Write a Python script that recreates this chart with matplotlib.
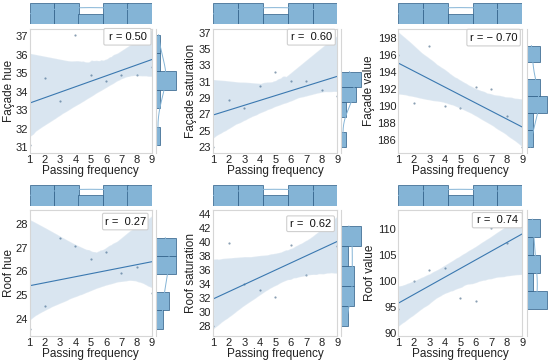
import numpy as np
import matplotlib
matplotlib.use("Agg")
import matplotlib.pyplot as plt
from matplotlib.patches import FancyBboxPatch
from matplotlib.collections import PolyCollection
import seaborn as sns

sns.set_style("white")
plt.rcParams['font.family'] = ['Liberation Sans', 'DejaVu Sans']

# ---------------- data ----------------
passing_frequency = [1, 2, 3, 4, 5, 6, 7, 8, 9]
facade_hue = [31.1, 34.75, 33.5, 37.1, 34.9, 34.6, 34.9, 34.9, 35.35]
facade_saturation = [23.0, 28.8, 27.8, 30.45, 32.25, 31.1, 31.1, 29.96, 29.2]
facade_value = [196.0, 190.33, 197.06, 190.0, 189.74, 192.2, 191.9, 188.76, 185.1]
roof_hue = [23.6, 24.55, 27.42, 27.06, 26.52, 26.8, 25.93, 26.17, 25.09]
roof_saturation = [28.1, 39.87, 34.04, 33.22, 32.2, 39.63, 35.32, 42.33, 39.4]
roof_value = [94.65, 100.06, 102.17, 102.44, 96.73, 96.1, 110.13, 107.25, 111.9]

x_label = "Passing frequency"
y_labels = ["Façade hue", "Façade saturation", "Façade value",
            "Roof hue", "Roof saturation", "Roof value"]
r_labels = ["r = 0.50", "r =  0.60", "r = \u2212 0.70",
            "r =  0.27", "r =  0.62", "r =  0.74"]
x_ticks = [1, 2, 3, 4, 5, 6, 7, 8, 9]
y_ticks = [[31, 32, 33, 34, 35, 36, 37],
           [23, 25, 27, 29, 31, 33, 35, 37],
           [186, 188, 190, 192, 194, 196, 198],
           [24, 25, 26, 27, 28],
           [28, 30, 32, 34, 36, 38, 40, 42, 44],
           [90, 95, 100, 105, 110]]
series = [facade_hue, facade_saturation, facade_value,
          roof_hue, roof_saturation, roof_value]

# ---------------- layout / style ----------------
W, H = 550, 361
fig = plt.figure(figsize=(5.5, 3.61), dpi=100)


def box(l, t, r, b):
    return [l / W, 1 - b / H, (r - l) / W, (b - t) / H]


cols = [(29.5, 152, 156, 177), (213.3, 337.3, 341, 362), (398.3, 522.3, 526.5, 547.5)]
rows = [(28.5, 153, 2.3, 24), (210, 335.5, 184, 205.5)]

ylims = [(30.68, 37.43), (22.26, 37.53), (184.42, 199.06),
         (23.31, 28.58), (26.68, 44.6), (89.48, 113.65)]
ytick_pads = [1.5, 2, 2, 1.5, 2, 2]
ylabel_pads = [0.3, 1.5, 1.5, 0.3, 1.5, 1.5]
xlabel_top = [165.5, 165.5, 165.5, 348.5, 348.5, 348.5]
rboxes = [(0.607, 0.992, 0.867, 1.0), (0.597, 0.984, 0.867, 0.994),
          (0.553, 0.984, 0.86, 0.994), (0.596, 0.968, 0.842, 0.974),
          (0.592, 0.977, 0.828, 0.953), (0.597, 1.0, 0.858, 0.98)]

C0 = "#1f77b4"
spine_c = "#d6d6d6"
bar_c = (132 / 255, 180 / 255, 214 / 255)
edge_c = (0.17, 0.36, 0.52)

for i, vals in enumerate(series):
    r_i, c_i = divmod(i, 3)
    ml, mr, yl, yr = cols[c_i]
    mt, mb, tt, tb = rows[r_i]
    ax = fig.add_axes(box(ml, mt, mr, mb))
    axx = fig.add_axes(box(ml, tt, mr, tb), sharex=ax)
    axy = fig.add_axes(box(yl, mt, yr, mb), sharey=ax)

    sns.regplot(x=passing_frequency, y=vals, ax=ax, ci=95, seed=3,
                color=C0,
                scatter_kws=dict(s=2.5, color="#6d87a0", linewidths=0),
                line_kws=dict(lw=0.8, color="#3a78b0"))
    for coll in ax.collections:
        if isinstance(coll, PolyCollection):
            coll.set_alpha(0.19)

    sns.histplot(x=passing_frequency, ax=axx, kde=True, color=bar_c, alpha=1,
                 edgecolor=edge_c, linewidth=0.5,
                 line_kws=dict(lw=0.7, color="#4f7fa8"))
    sns.histplot(y=vals, ax=axy, kde=True, color=bar_c, alpha=1,
                 edgecolor=edge_c, linewidth=0.5,
                 line_kws=dict(lw=0.7, color="#8fa7bd"))

    ax.set_xlim(1, 9)
    ax.set_ylim(*ylims[i])
    ax.set_xticks(x_ticks)
    ax.set_yticks(y_ticks[i])
    ax.tick_params(axis="both", length=0, labelsize=8, colors="#222222")
    ax.tick_params(axis="x", pad=1.5)
    ax.tick_params(axis="y", pad=ytick_pads[i] * 0.72)
    for s in ax.spines.values():
        s.set_color(spine_c)
        s.set_linewidth(0.8)
    ax.set_xlabel(x_label, fontsize=8.5, color="#222222", va="top")
    ax.set_ylabel(y_labels[i], fontsize=8.5, color="#222222",
                  labelpad=ylabel_pads[i])
    ax.xaxis.set_label_coords(0.5, -(xlabel_top[i] - mb) / (mb - mt))

    x0, x1, y0, y1 = rboxes[i]
    ax.add_patch(FancyBboxPatch((x0, y0), x1 - x0, y1 - y0,
                                boxstyle="round,pad=0,rounding_size=0.012",
                                transform=ax.transAxes, fc="white",
                                ec="#cfcfcf", lw=0.8, zorder=5, clip_on=False))
    ax.text((x0 + x1) / 2, (y0 + y1) / 2, r_labels[i], transform=ax.transAxes,
            ha="center", va="center", fontsize=8, color="#111111", zorder=6)

    axx.set_axis_off()
    for k, s in axy.spines.items():
        s.set_visible(k == "left")
        s.set_color(spine_c)
        s.set_linewidth(0.8)
    axy.set_xlabel("")
    axy.set_ylabel("")
    axy.tick_params(left=False, bottom=False, labelleft=False, labelbottom=False)
    axy.set_xticks([])
    ax.set_ylim(*ylims[i])
    ax.set_xlim(1, 9)

fig.savefig("out.png", dpi=100)
